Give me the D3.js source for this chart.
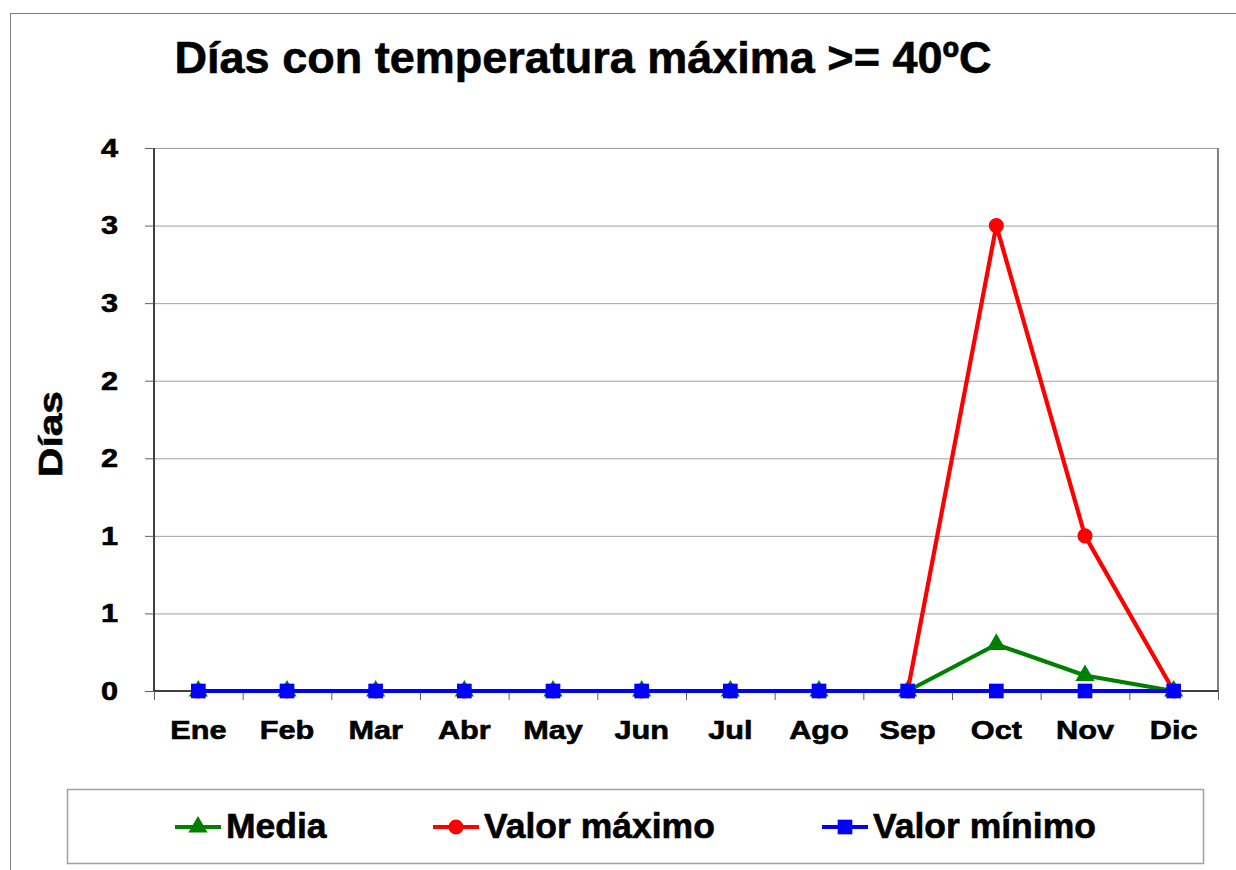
<!DOCTYPE html>
<html>
<head>
<meta charset="utf-8">
<script src="https://cdn.jsdelivr.net/npm/d3@7"></script>
<style>
  body { margin: 0; background: #fff; }
  svg text { font-family: "Liberation Sans", Arial, sans-serif; font-weight: bold; fill: #000; }
  svg text.heavy { stroke: #000; stroke-width: 0.6px; }
</style>
</head>
<body>
<div id="chart"></div>
<script>
// data
var meses = ["Ene", "Feb", "Mar", "Abr", "May", "Jun", "Jul", "Ago", "Sep", "Oct", "Nov", "Dic"];
var media = [0, 0, 0, 0, 0, 0, 0, 0, 0, 0.3, 0.1, 0];
var valorMaximo = [0, 0, 0, 0, 0, 0, 0, 0, 0, 3, 1, 0];
var valorMinimo = [0, 0, 0, 0, 0, 0, 0, 0, 0, 0, 0, 0];
var yTicks = [0, 0.5, 1, 1.5, 2, 2.5, 3, 3.5];
var yTickLabels = ["0", "1", "1", "2", "2", "3", "3", "4"];
var seriesNames = ["Media", "Valor máximo", "Valor mínimo"];

var w = 1236, h = 870;
var plotLeft = 154, plotRight = 1218, plotTop = 148, plotBottom = 691;
var stretch = 1.18; // axis fonts look a bit wider than normal

var svg = d3.select("#chart").append("svg").attr("width", w).attr("height", h);

// outer chart border (only top and left are visible in the picture)
svg.append("rect").attr("x", 10.5).attr("y", 13.5).attr("width", w + 20).attr("height", h + 20)
    .attr("fill", "none").attr("stroke", "#808080").attr("stroke-width", 1);

// title
svg.append("text").attr("class", "heavy").attr("x", 583).attr("y", 73).attr("text-anchor", "middle")
    .attr("font-size", 45).text("Días con temperatura máxima >= 40ºC");

var x = d3.scaleBand().domain(meses).range([plotLeft, plotRight]).padding(0);
var xEdges = d3.scaleLinear().domain([0, meses.length]).range([plotLeft, plotRight]);
var y = d3.scaleLinear().domain([0, 3.5]).range([plotBottom, plotTop]);

// gridlines
svg.append("g").attr("transform", "translate(" + plotLeft + ",0)")
    .call(d3.axisLeft(y).tickValues(yTicks.slice(1)).tickSize(-(plotRight - plotLeft)).tickFormat(""))
    .call(function (g) {
        g.select(".domain").remove();
        g.selectAll("line").attr("stroke", "#a0a0a0").attr("stroke-width", 1);
    });

// right border of plot
svg.append("line").attr("x1", plotRight).attr("x2", plotRight).attr("y1", plotTop).attr("y2", plotBottom)
    .attr("stroke", "#808080").attr("stroke-width", 2);

// y axis
svg.append("g").attr("transform", "translate(" + plotLeft + ",0)")
    .call(d3.axisLeft(y).tickValues(yTicks).tickSize(9).tickFormat(function (d, i) { return yTickLabels[i]; }))
    .call(function (g) {
        g.select(".domain").attr("stroke", "#000").attr("stroke-width", 1.5)
            .attr("d", "M0," + plotTop + "V" + plotBottom);
        g.selectAll(".tick line").attr("stroke", "#606060");
        g.selectAll(".tick text").attr("class", "heavy").attr("font-size", 26).attr("font-family", null)
            .attr("x", -36 / stretch).attr("transform", "scale(" + stretch + ",1)");
    });

// x axis: boundary ticks
svg.append("g").attr("transform", "translate(0," + plotBottom + ")")
    .call(d3.axisBottom(xEdges).tickValues(d3.range(meses.length + 1)).tickSize(9).tickFormat(""))
    .call(function (g) {
        g.select(".domain").attr("stroke", "#000").attr("stroke-width", 1.5)
            .attr("d", "M" + plotLeft + ",0H" + plotRight);
        g.selectAll(".tick line").attr("stroke", "#606060");
    });

// x axis labels
svg.append("g").attr("transform", "translate(0," + plotBottom + ")")
    .call(d3.axisBottom(x).tickSize(0))
    .call(function (g) {
        g.select(".domain").remove();
        g.selectAll(".tick text").attr("class", "heavy").attr("font-size", 26).attr("font-family", null)
            .attr("y", 48).attr("dy", 0).attr("transform", "scale(" + stretch + ",1)");
    });

// y axis title
svg.append("text").attr("class", "heavy").attr("transform", "translate(62,434) rotate(-90)")
    .attr("text-anchor", "middle").attr("font-size", 33)
    .attr("textLength", 86).attr("lengthAdjust", "spacingAndGlyphs").text("Días");

var cx = function (d, i) { return x(meses[i]) + x.bandwidth() / 2; };
var line = d3.line().x(cx).y(function (d) { return y(d); });

var series = [
    { name: seriesNames[0], values: media, color: "#008000", marker: d3.symbolTriangle, size: 160 },
    { name: seriesNames[1], values: valorMaximo, color: "#FF0000", marker: d3.symbolCircle, size: 180 },
    { name: seriesNames[2], values: valorMinimo, color: "#0000FF", marker: d3.symbolSquare, size: 215 }
];

series.forEach(function (s) {
    var g = svg.append("g");
    g.append("path").datum(s.values).attr("d", line)
        .attr("fill", "none").attr("stroke", s.color).attr("stroke-width", 4.2);
    g.selectAll("path.m").data(s.values).enter().append("path").attr("class", "m")
        .attr("d", d3.symbol().type(s.marker).size(s.size))
        .attr("transform", function (d, i) { return "translate(" + cx(d, i) + "," + y(d) + ")"; })
        .attr("fill", s.color);
});

// legend
svg.append("rect").attr("x", 67.5).attr("y", 789.5).attr("width", 1136).attr("height", 74)
    .attr("fill", "none").attr("stroke", "#a0a0a0").attr("stroke-width", 1.5);

var legendX = [175, 433, 822];
series.forEach(function (s, i) {
    var g = svg.append("g").attr("transform", "translate(" + legendX[i] + ",827)");
    g.append("line").attr("x1", 0).attr("x2", 46).attr("y1", 0).attr("y2", 0)
        .attr("stroke", s.color).attr("stroke-width", 4);
    g.append("path").attr("d", d3.symbol().type(s.marker).size(s.size))
        .attr("transform", "translate(23,0)").attr("fill", s.color);
    g.append("text").attr("class", "heavy").attr("x", 51).attr("y", 11).attr("font-size", 35.5).text(s.name);
});
</script>
</body>
</html>
